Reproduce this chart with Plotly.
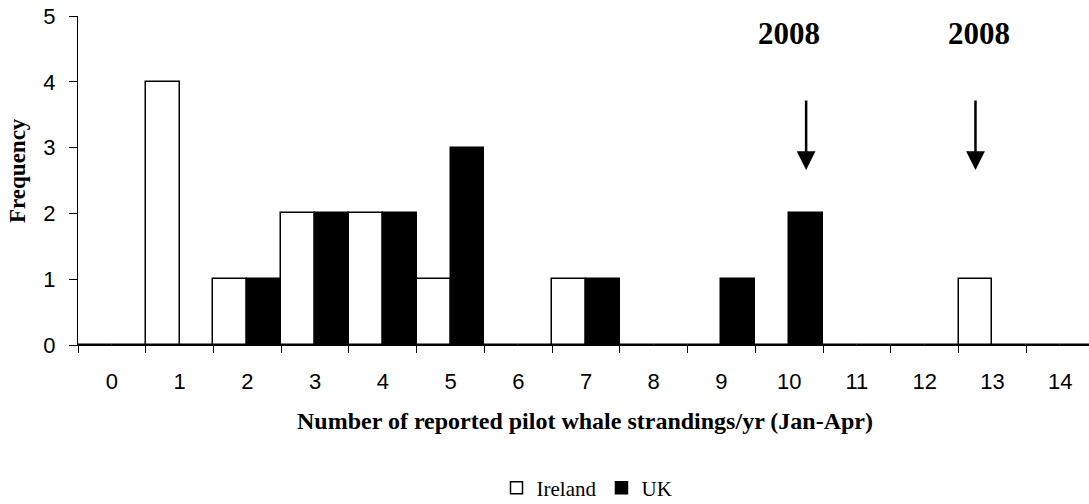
import plotly.graph_objects as go

categories = [str(i) for i in range(15)]
ireland = [0, 4, 1, 2, 2, 1, 0, 1, 0, 0, 0, 0, 0, 1, 0]
uk = [0, 0, 1, 2, 2, 3, 0, 1, 0, 1, 2, 0, 0, 0, 0]
y_ticks = [0, 1, 2, 3, 4, 5]

W, H = 1089, 504
ML, MR, MT, MB = 78, 0, 16, 159
PW, PH = W - ML - MR, H - MT - MB
CAT_W = 1016 / 15  # pixel width of one category in the reference
X_END = -0.5 + PW / CAT_W

def px_x(p):  # screen pixel -> paper x
    return (p - ML) / PW

def px_y(p):  # screen pixel -> paper y
    return (H - MB - p) / PH

fig = go.Figure()
fig.add_trace(go.Bar(x=categories, y=ireland, name="Ireland",
                     marker=dict(color="white", line=dict(color="black", width=1.5))))
fig.add_trace(go.Bar(x=categories, y=uk, name="UK",
                     marker=dict(color="black", line=dict(color="black", width=1.5))))

serif = "Liberation Serif"
sans = "Liberation Sans"

annotations = [
    dict(text="<b>Number of reported pilot whale strandings/yr (Jan-Apr)</b>",
         xref="paper", yref="paper", x=px_x(585), y=px_y(421), showarrow=False,
         xanchor="center", yanchor="middle", font=dict(family=serif, size=24, color="black")),
    dict(text="<b>Frequency</b>", textangle=-90,
         xref="paper", yref="paper", x=px_x(17), y=px_y(171), showarrow=False,
         xanchor="center", yanchor="middle", font=dict(family=serif, size=23, color="black")),
    dict(text="<b>2008</b>", xref="x", yref="y", x=10.0, y=4.74, showarrow=False,
         font=dict(family=serif, size=31, color="black")),
    dict(text="<b>2008</b>", xref="x", yref="y", x=12.8, y=4.74, showarrow=False,
         font=dict(family=serif, size=31, color="black")),
]
for xa in (10.25, 12.75):
    annotations.append(dict(text="", xref="x", yref="y", x=xa, y=2.66,
                            axref="x", ayref="y", ax=xa, ay=3.74,
                            showarrow=True, arrowhead=2, arrowsize=1.5,
                            arrowwidth=2.5, arrowcolor="black"))

fig.update_layout(
    width=W, height=H,
    margin=dict(l=ML, r=MR, t=MT, b=MB, autoexpand=False),
    paper_bgcolor="white", plot_bgcolor="white",
    barmode="group", bargap=0, bargroupgap=0,
    showlegend=True,
    legend=dict(orientation="h", x=px_x(587), y=px_y(488), xanchor="center", yanchor="middle",
                font=dict(family=serif, size=21, color="black"), itemwidth=30,
                tracegroupgap=0),
    annotations=annotations,
    xaxis=dict(type="category", range=[-0.5, X_END], tickson="boundaries",
               ticks="outside", ticklen=7, tickcolor="black", tickwidth=1,
               showline=True, linecolor="black", linewidth=1,
               showgrid=False, zeroline=False, ticklabelstandoff=17,
               ticklabeloverflow="allow",
               tickfont=dict(family=sans, size=22, color="black"), fixedrange=True),
    yaxis=dict(range=[0, 5], tickvals=y_ticks, ticks="outside", ticklen=8,
               tickcolor="black", tickwidth=1, showline=True, linecolor="black",
               linewidth=1, showgrid=False, zeroline=False, ticklabelstandoff=9,
               ticklabeloverflow="allow",
               tickfont=dict(family=sans, size=22, color="black"), fixedrange=True),
)

fig.write_html("out.html", config={"displayModeBar": False},
               post_script="document.body.style.margin='0';")
